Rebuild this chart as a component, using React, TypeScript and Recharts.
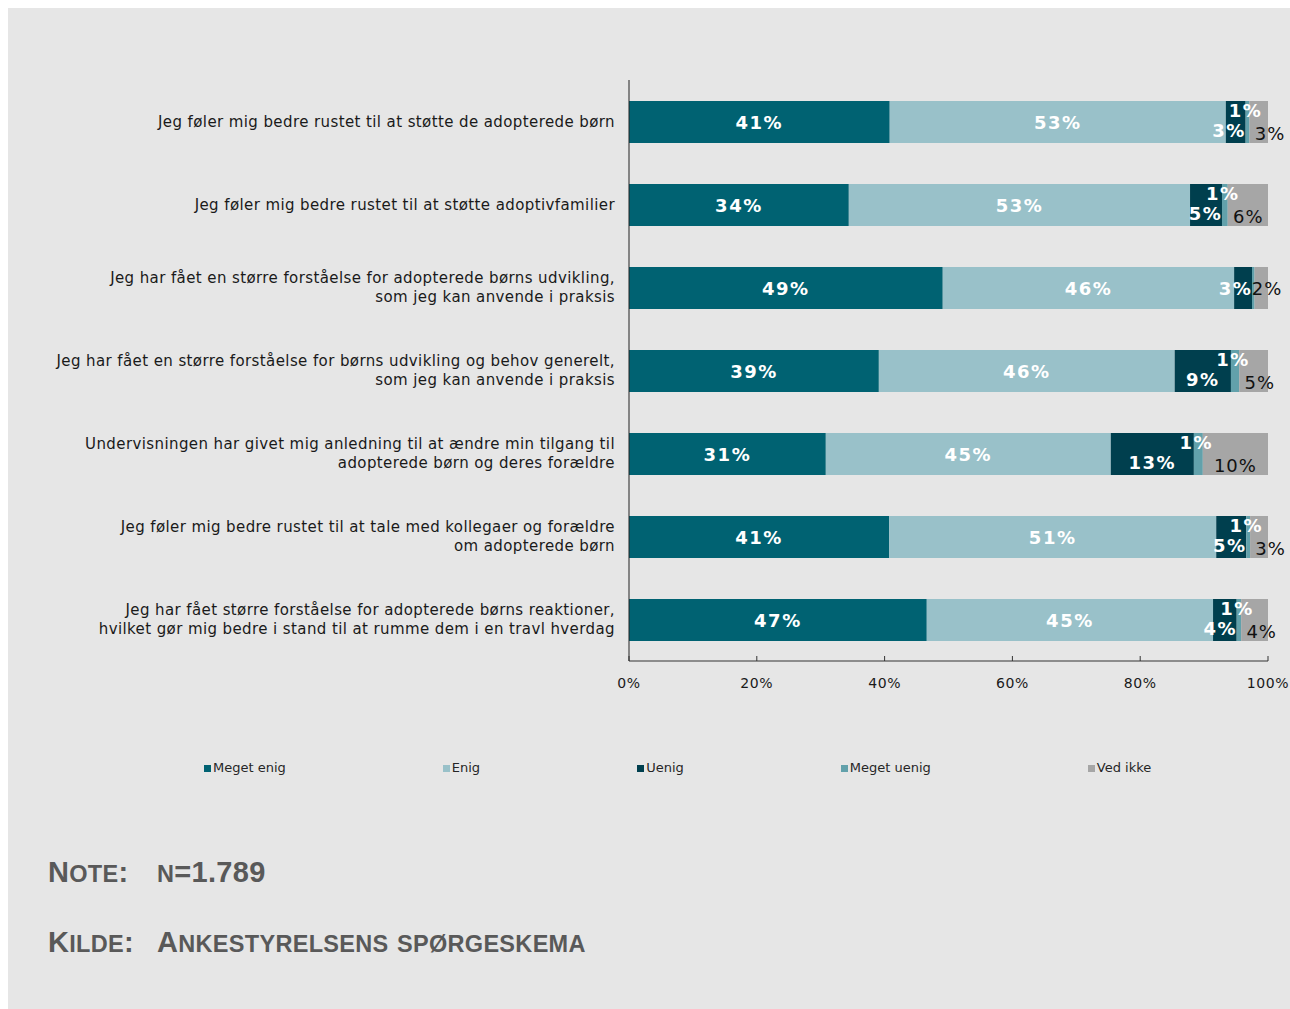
import { Bar, BarChart, LabelList, XAxis, YAxis } from 'recharts';

const categories = [
  'Jeg føler mig bedre rustet til at støtte de adopterede børn',
  'Jeg føler mig bedre rustet til at støtte adoptivfamilier',
  'Jeg har fået en større forståelse for adopterede børns udvikling,\nsom jeg kan anvende i praksis',
  'Jeg har fået en større forståelse for børns udvikling og behov generelt,\nsom jeg kan anvende i praksis',
  'Undervisningen har givet mig anledning til at ændre min tilgang til\nadopterede børn og deres forældre',
  'Jeg føler mig bedre rustet til at tale med kollegaer og forældre\nom adopterede børn',
  'Jeg har fået større forståelse for adopterede børns reaktioner,\nhvilket gør mig bedre i stand til at rumme dem i en travl hverdag',
];

const megetEnig = [40.8, 34.4, 49.1, 39.1, 30.8, 40.7, 46.6];
const enig = [52.6, 53.4, 45.6, 46.3, 44.6, 51.2, 44.8];
const uenig = [3.1, 5.0, 2.8, 8.8, 13.0, 4.7, 3.7];
const megetUenig = [0.6, 0.9, 0.4, 1.3, 1.4, 0.6, 0.7];
const vedIkke = [2.9, 6.3, 2.1, 4.5, 10.2, 2.8, 4.2];

const xTicks = [0, 20, 40, 60, 80, 100];

const series = [
  { key: 'megetEnig', name: 'Meget enig', color: '#006272' },
  { key: 'enig', name: 'Enig', color: '#99c1c9' },
  { key: 'uenig', name: 'Uenig', color: '#003f4e' },
  { key: 'megetUenig', name: 'Meget uenig', color: '#62a1ab' },
  { key: 'vedIkke', name: 'Ved ikke', color: '#a6a6a6' },
];

const data = categories.map((name, i) => ({
  name,
  megetEnig: megetEnig[i],
  enig: enig[i],
  uenig: uenig[i],
  megetUenig: megetUenig[i],
  vedIkke: vedIkke[i],
}));

const FONT = '"DejaVu Sans", Verdana, sans-serif';

const pct = (v: number) => `${Math.round(v)}%`;

const box = (p: any) => {
  const vb = p.viewBox ?? {};
  return {
    x: Number(p.x ?? vb.x),
    y: Number(p.y ?? vb.y),
    w: Number(p.width ?? vb.width),
    h: Number(p.height ?? vb.height),
  };
};

const boldText = {
  fill: '#fff',
  fontFamily: FONT,
  fontSize: 18,
  fontWeight: 'bold' as const,
  letterSpacing: 1.5,
  textAnchor: 'middle' as const,
  dominantBaseline: 'central' as const,
};

const centerLabel = (arr: number[]) => (p: any) => {
  const { x, y, w, h } = box(p);
  return <text x={x + w / 2} y={y + h / 2} {...boldText}>{pct(arr[p.index])}</text>;
};

const uenigLabel = (p: any) => {
  const { x, y, w, h } = box(p);
  const t = pct(uenig[p.index]);
  const tw = (t.length - 1) * 13 + 22;
  const cx = Math.min(x + w / 2, x + w - tw / 2 + 1);
  const shift = Math.round(megetUenig[p.index]) > 0 ? 8 : 0;
  return <text x={cx} y={y + h / 2 + shift} {...boldText}>{t}</text>;
};

const megetUenigLabel = (p: any) => {
  const { x, y, w, h } = box(p);
  const v = megetUenig[p.index];
  if (Math.round(v) === 0) return null;
  return <text x={x + w / 2 - 2} y={y + h / 2 - 12} {...boldText}>{pct(v)}</text>;
};

const vedIkkeLabel = (p: any) => {
  const { x, y, w, h } = box(p);
  const t = pct(vedIkke[p.index]);
  const tw = (t.length - 1) * 12 + 19;
  const crowded = Math.round(megetUenig[p.index]) > 0;
  const cx = Math.max(x + w / 2, x + (crowded ? 5 : -3) + tw / 2);
  return (
    <text x={cx} y={y + h / 2 + (crowded ? 11 : 0)} fill="#111" fontFamily={FONT} fontSize={18}
      letterSpacing={1} textAnchor="middle" dominantBaseline="central">
      {t}
    </text>
  );
};

const CategoryTick = (p: any) => {
  const lines = String(p.payload.value).split('\n');
  const start = -((lines.length - 1) * 19) / 2;
  return (
    <text x={p.x - 14} y={p.y} fill="#1a1a1a" fontFamily={FONT} fontSize={15}
      letterSpacing={0.4} textAnchor="end" dominantBaseline="central">
      {lines.map((l, i) => (
        <tspan key={i} x={p.x - 14} dy={i === 0 ? start : 19}>{l}</tspan>
      ))}
    </text>
  );
};

const PercentTick = (p: any) => (
  <g>
    <line x1={p.x} x2={p.x} y1={p.y} y2={p.y - 5} stroke="#333" />
    <text x={p.x} y={p.y + 22} fill="#1a1a1a" fontFamily={FONT} fontSize={14}
      letterSpacing={0.6} textAnchor="middle" dominantBaseline="central">
      {`${p.payload.value}%`}
    </text>
  </g>
);

// Excel-like small caps: real capitals and digits at full size, the rest as smaller capitals
const SmallCaps = ({ text }: { text: string }) => (
  <>
    {text.split('').map((c, i) => {
      const small = c !== c.toUpperCase();
      return (
        <span key={i} style={{ fontSize: small ? 23.5 : 29 }}>{c.toUpperCase()}</span>
      );
    })}
  </>
);

const capsStyle = {
  position: 'absolute' as const,
  fontFamily: '"Liberation Sans", Arial, sans-serif',
  fontWeight: 'bold' as const,
  fontSize: 29,
  lineHeight: '29px',
  letterSpacing: 0.3,
  color: '#595959',
  whiteSpace: 'nowrap' as const,
};

export default function App() {
  return (
    <div style={{ position: 'fixed', left: 8, top: 8, width: 1282, height: 1001,
      background: '#e6e6e6', overflow: 'hidden' }}>
      <BarChart width={1282} height={700} data={data} layout="vertical"
        margin={{ top: 72, right: 22, bottom: 7, left: 0 }}>
        <XAxis type="number" domain={[0, 100]} ticks={xTicks} height={40}
          axisLine={{ stroke: '#333' }} tickLine={false} tickSize={0} tickMargin={0}
          tick={<PercentTick />} interval={0} />
        <YAxis type="category" dataKey="name" width={621}
          axisLine={{ stroke: '#222' }} tickLine={false} tickSize={0} tickMargin={0}
          tick={<CategoryTick />} interval={0} />
        <Bar dataKey="megetEnig" stackId="a" fill={series[0].color} barSize={42} isAnimationActive={false}>
          <LabelList dataKey="megetEnig" content={centerLabel(megetEnig)} />
        </Bar>
        <Bar dataKey="enig" stackId="a" fill={series[1].color} barSize={42} isAnimationActive={false}>
          <LabelList dataKey="enig" content={centerLabel(enig)} />
        </Bar>
        <Bar dataKey="uenig" stackId="a" fill={series[2].color} barSize={42} isAnimationActive={false}>
          <LabelList dataKey="uenig" content={uenigLabel} />
        </Bar>
        <Bar dataKey="megetUenig" stackId="a" fill={series[3].color} barSize={42} isAnimationActive={false}>
          <LabelList dataKey="megetUenig" content={megetUenigLabel} />
        </Bar>
        <Bar dataKey="vedIkke" stackId="a" fill={series[4].color} barSize={42} isAnimationActive={false}>
          <LabelList dataKey="vedIkke" content={vedIkkeLabel} />
        </Bar>
      </BarChart>

      <div style={{ position: 'absolute', left: 196, top: 752, display: 'flex', gap: 157,
        fontFamily: FONT, fontSize: 13, color: '#262626', lineHeight: '16px' }}>
        {series.map((s) => (
          <div key={s.key} style={{ display: 'flex', alignItems: 'center', whiteSpace: 'nowrap' }}>
            <span style={{ display: 'inline-block', width: 7, height: 7, background: s.color, marginRight: 2 }} />
            {s.name}
          </div>
        ))}
      </div>

      <div style={{ ...capsStyle, left: 40, top: 850 }}><SmallCaps text="Note:" /></div>
      <div style={{ ...capsStyle, left: 149, top: 850 }}><SmallCaps text="n=1.789" /></div>
      <div style={{ ...capsStyle, left: 40, top: 920 }}><SmallCaps text="Kilde:" /></div>
      <div style={{ ...capsStyle, left: 149, top: 920 }}><SmallCaps text="Ankestyrelsens spørgeskema" /></div>
    </div>
  );
}
